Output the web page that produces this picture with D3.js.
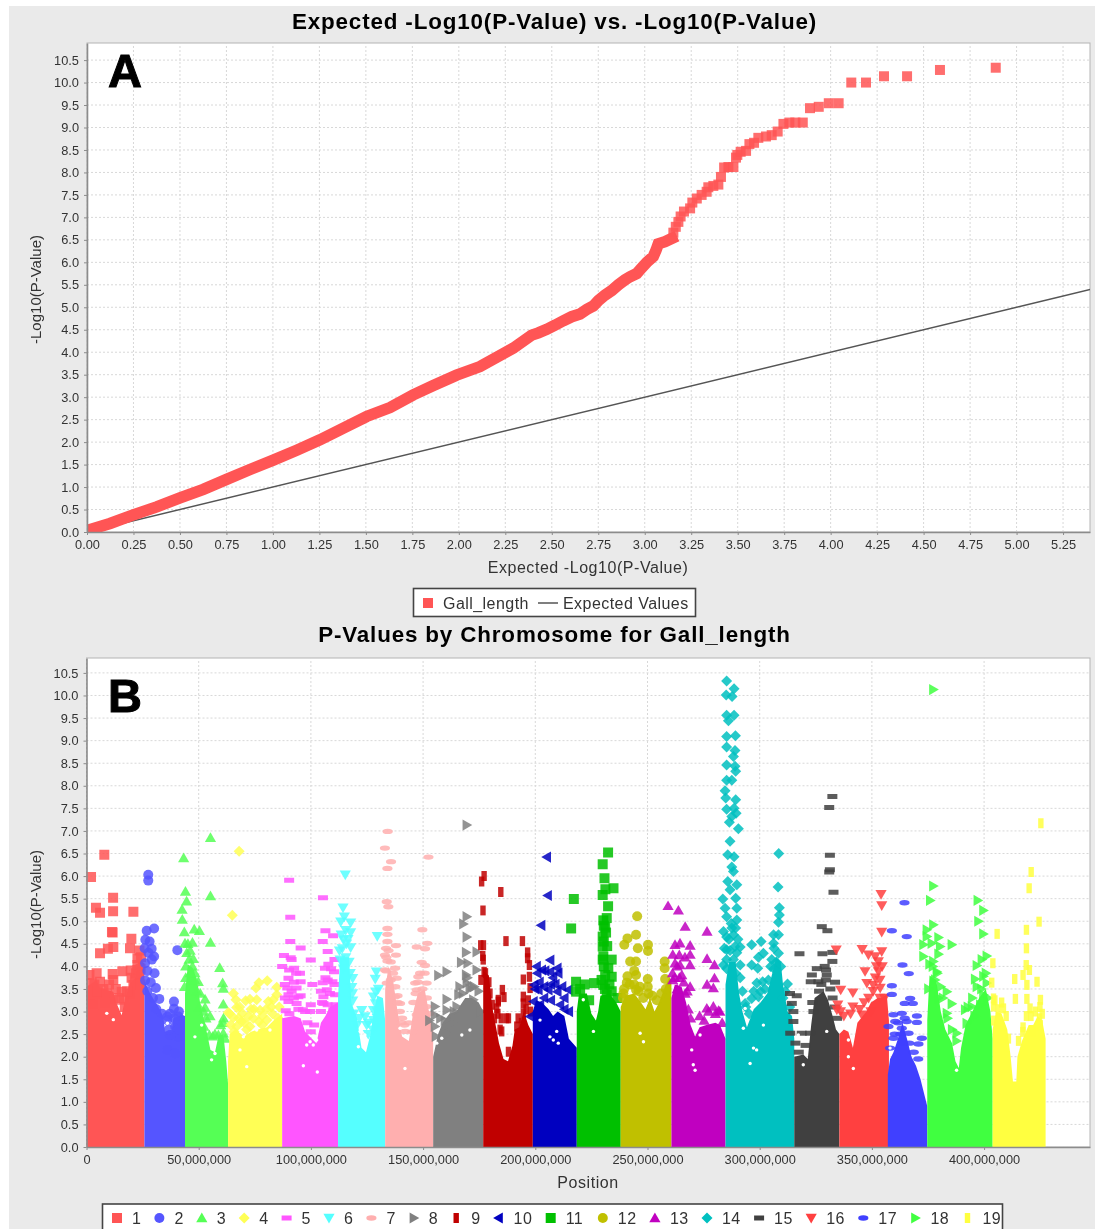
<!DOCTYPE html>
<html>
<head>
<meta charset="utf-8">
<script src="https://d3js.org/d3.v7.min.js"></script>
<style>
html, body { margin: 0; padding: 0; background: #fff; }
svg { display: block; }
text { font-family: "Liberation Sans", Arial, sans-serif; fill: #333; }
.soft { filter: blur(0.45px); }
</style>
</head>
<body>
<svg width="1095" height="1229"></svg>
<script>
// ---- panel A data
var xTicksA = [0,0.25,0.5,0.75,1,1.25,1.5,1.75,2,2.25,2.5,2.75,3,3.25,3.5,3.75,4,4.25,4.5,4.75,5,5.25];
var yTicks = [0,0.5,1,1.5,2,2.5,3,3.5,4,4.5,5,5.5,6,6.5,7,7.5,8,8.5,9,9.5,10,10.5];
var expectedLine = [[0,0],[5.4,5.4]];
// the low end of the QQ curve is so dense the squares merge into a band
var qqBand = [[0.007,0.04],[0.124,0.19],[0.249,0.38],[0.375,0.56],[0.5,0.76],[0.626,0.95],[0.751,1.17],[0.877,1.39],[1.002,1.6],[1.128,1.82],[1.253,2.05],[1.379,2.31],[1.504,2.57],[1.63,2.77],[1.755,3.05],[1.863,3.26],[1.988,3.49],[2.114,3.68],[2.204,3.89],[2.293,4.09],[2.392,4.38],[2.428,4.43],[2.473,4.51],[2.517,4.6],[2.562,4.7],[2.607,4.79],[2.652,4.85],[2.688,4.95],[2.724,5.03],[2.751,5.15],[2.786,5.27],[2.822,5.37],[2.858,5.5],[2.894,5.61],[2.921,5.68],[2.957,5.75],[2.984,5.88],[3.011,6],[3.046,6.13],[3.061,6.27],[3.073,6.41],[3.109,6.46],[3.145,6.53]];
var qqPoints = [[3.154,6.66],[3.167,6.79],[3.181,6.9],[3.193,7.02],[3.211,7.13],[3.244,7.2],[3.256,7.33],[3.28,7.42],[3.306,7.5],[3.333,7.57],[3.342,7.67],[3.369,7.7],[3.396,7.73],[3.41,7.9],[3.427,8.11],[3.45,8.12],[3.477,8.12],[3.491,8.33],[3.498,8.39],[3.516,8.46],[3.545,8.48],[3.563,8.63],[3.588,8.66],[3.611,8.77],[3.652,8.8],[3.683,8.83],[3.715,8.91],[3.746,9.08],[3.778,9.11],[3.81,9.11],[3.85,9.11],[3.889,9.43],[3.936,9.46],[3.99,9.54],[4.043,9.54],[4.111,10],[4.19,10],[4.287,10.14],[4.411,10.14],[4.588,10.28],[4.888,10.33]];

// ---- panel B data: separate points [Mb, -log10 p] per chromosome
var chr1Pts = [[7.9,6.47],[2,5.98],[11.8,5.52],[4.2,5.3],[6,5.19],[11.8,5.22],[20.8,5.21],[11.3,4.76],[11.6,4.75],[19.9,4.61],[9.5,4.39],[11.9,4.43],[19.3,4.4],[6,4.29],[22.6,4.18],[22.6,4.03],[22.6,3.92],[19.6,3.91],[15.9,3.89],[11.6,3.83],[4.5,3.85],[1.3,3.81],[21.5,3.7],[11.9,3.7],[6,3.66],[15.6,3.44],[20.8,3.59],[2.3,3.63],[5.3,3.4],[11.9,3.26],[19.3,3.4],[16.3,3.26],[1.5,3.35],[3.5,3.6],[5,3.45],[7.5,3.5],[9,3.4],[10,3.6],[13,3.5],[14.5,3.3],[18,3.45],[20,3.75],[22,3.85],[24,3.95],[24.2,4.2],[24,3.6],[23.5,4.35],[17,3.1],[3,3.15],[8,3.2]];
var chr2Pts = [[27.4,6.03],[27.4,5.9],[30,4.84],[26.7,4.79],[26.1,4.59],[25.8,4.4],[28.9,4.39],[40.3,4.36],[30,4.22],[26,4.07],[30.2,3.85],[26,3.69],[30.8,3.52],[32.3,3.28],[38.8,3.22],[38.8,3.06],[35.9,2.89],[40.8,2.89],[39.3,2.67],[35.9,2.81],[37,2.48],[40.8,2.44],[35.9,2.15],[39.3,2.07],[37.3,2.48],[27,3.9],[27.5,4.3],[28,4.55],[29,4.15],[28.5,3.65],[27,3.45],[29.5,3.3],[31,3.05],[33.5,2.95],[37,2.95],[39,2.85],[41,3],[42,2.7],[36.5,2.6],[41,2.6]];
var chr3Pts = [[55,6.85],[43.1,6.4],[43.9,5.66],[44.4,5.44],[55,5.56],[42.4,5.26],[42.5,5.04],[43.4,4.76],[47.8,4.82],[50.1,4.79],[55,4.53],[43.7,4.51],[47,4.53],[47.4,4.17],[59.1,3.97],[48.1,3.85],[60.4,3.63],[60.7,3.51],[49.6,3.66],[52.6,3.27],[60.7,3.16],[52.6,3.09],[54.8,2.9],[52.1,2.67],[60.7,2.75],[54.5,2.48],[60.7,2.52],[58.5,2.48],[45,4.5],[44.5,4.3],[46,4.35],[45.5,4.15],[44,4],[47,4],[48,3.7],[49,3.45],[50.5,3.4],[44,3.75],[43.5,3.55],[46,3.85],[52,3],[50,3.1],[53,2.85],[57,2.5],[59.5,2.7],[60.8,2.85],[61.5,2.4],[56,2.45]];
var chr4Pts = [[67.7,6.55],[64.7,5.13],[80.2,3.68],[76.5,3.64],[75.2,3.52],[84.4,3.54],[65.2,3.4],[84.4,3.37],[66.3,3.26],[70.6,3.24],[72.5,3.27],[75.5,3.26],[80.7,3.22],[82.9,3.26],[66.6,3.09],[74.3,3.05],[77,3.03],[79.7,3.05],[62.9,2.98],[69.1,2.96],[71.8,2.89],[65.2,2.87],[68.8,2.78],[76.5,2.78],[80,2.81],[72.5,2.67],[66.6,2.67],[64,2.7],[67.5,2.85],[70,2.75],[74,2.85],[78,2.9],[82.5,2.95],[85.5,3.1],[63.5,2.95],[73,3.05],[68,3.1],[85,2.85],[82,3.1],[78,2.7],[71,2.6],[65.5,2.55]];
var chr5Pts = [[89.9,5.91],[104.9,5.52],[90.4,5.09],[90.4,4.55],[104.8,4.55],[95,4.41],[106,4.79],[109.4,4.68],[87.6,4.24],[90.6,4.19],[107,4.33],[99.5,4.14],[86.8,4],[107.3,4.05],[89.9,3.92],[92.1,3.96],[105.8,3.96],[94.7,3.85],[109.8,3.88],[89.6,3.74],[95,3.66],[100.2,3.6],[104.8,3.64],[109.1,3.66],[89.1,3.52],[93.2,3.52],[106.6,3.48],[89.6,3.37],[94,3.33],[110.3,3.37],[105.1,3.33],[89.6,3.22],[93.2,3.18],[99.5,3.15],[105.1,3.18],[88.4,3.02],[96,3.04],[99.2,3],[109.5,3.04],[88,3.3],[91,3.45],[92,3.65],[88,3.6],[93,3.85],[91,4.15],[95,3.35],[92,3.3],[90,2.95],[94,3.05],[97,3],[104,3],[107,3.15],[108,3.4],[110,3.6],[106,3.75],[108.5,3.95],[110,4.15],[104,3.45],[107,3.7],[104.5,3.2],[110.5,3.15],[98,2.75],[101,2.7],[99.5,2.55]];
var chr6Pts = [[114.8,6.03],[113.8,5.3],[114.4,5.1],[117.2,4.97],[112.8,4.99],[117.2,4.75],[129,4.67],[114,4.59],[115.4,4.5],[117.2,4.42],[112.2,4.35],[128.6,3.88],[128.1,3.72],[118.1,3.74],[117.7,3.54],[118.1,3.24],[128.3,3.44],[127.3,3.33],[128.2,3.18],[122.1,3.03],[127.3,3.03],[123.6,2.89],[127.3,2.81],[124.3,2.7],[128.7,2.67],[113,4.7],[115,4.8],[113.5,4.4],[116,4.6],[112.5,4.15],[115,4.2],[116.5,4.1],[114,3.95],[117,3.85],[118,3.4],[118.5,2.95],[121,2.85],[120,2.7],[125,2.75],[129,3],[129.5,3.5],[127,2.6],[129,2.85],[125,2.5]];
var chr7Pts = [[133.6,6.99],[132.4,6.62],[135.1,6.32],[133.5,6.17],[151.7,6.42],[133.2,5.43],[133.9,5.32],[133.5,4.84],[133.5,4.71],[149,4.81],[133.5,4.55],[137.3,4.46],[151.2,4.51],[146.5,4.43],[150.2,4.39],[132.9,4.4],[132.4,4.25],[137.3,4.25],[133.5,4.12],[148.7,4.09],[150.2,4.02],[136.9,3.96],[132.4,3.92],[137.6,3.74],[147.2,3.77],[145.8,3.63],[150.9,3.63],[133.2,3.63],[146.5,3.48],[136.9,3.33],[148.7,3.26],[139.1,3.18],[150.9,3.11],[139.8,2.75],[141.3,2.56],[146.5,2.93],[134,4.35],[135,4.1],[133,4.2],[136,3.85],[135,3.7],[137,3.55],[133,3.9],[138,3.35],[139,3],[140,2.85],[138,3.2],[141,2.7],[147,3.65],[149,3.5],[146,3.4],[151,3.3],[148,3.85],[145,3.2],[150,3.85],[152,2.95],[143,2.75],[144.5,2.55]];
var chr8Pts = [[168.7,7.13],[168.7,5.1],[167.2,4.94],[168.7,4.65],[168.4,4.31],[173.1,4.32],[166.2,4.09],[169.1,4.07],[173.1,3.92],[156.1,3.8],[159.8,3.88],[168.4,3.81],[168.7,3.63],[170.9,3.55],[165,3.37],[159.8,3.27],[154.6,3.11],[159.8,3.03],[154.6,2.92],[152.1,2.8],[154.6,2.67],[164.2,3.11],[171.6,3.26],[157,2.85],[155,2.45],[163,3],[165.5,3.55],[167,3.4],[169,3.75],[172,3.55],[174,3.45],[170,3.5],[162,2.75],[160,2.5],[159,2.8],[175,3]];
var chr9Pts = [[176.4,6],[175.3,5.88],[183.8,5.65],[175.9,5.24],[174.9,4.47],[176.1,4.47],[175.8,4.23],[186.1,4.56],[193.4,4.56],[195.7,4.31],[195.7,4.18],[196.5,4.03],[196.5,3.77],[193.8,3.71],[176.4,3.88],[196.8,3.52],[184.5,3.48],[185.2,3.32],[182.7,3.26],[193.8,3.33],[193.8,3.18],[182,3.07],[186.4,2.85],[190.9,2.67],[193.8,2.96],[183.5,2.6],[180.5,2.52],[190.9,2.26],[187.2,2.85],[187.2,2.11],[184.2,2.56],[182.7,3.22],[176,4.15],[177,3.85],[178.5,3.65],[175,3.7],[179,3.4],[180,3.15],[181,2.85],[182.5,2.95],[184,2.85],[195,3.05],[191.5,2.85],[193,2.75],[196,3.25],[197,3]];
var chr10Pts = [[204.2,6.42],[204.6,5.57],[201.7,4.91],[205.7,4.14],[199.7,4],[202,3.92],[205.7,3.88],[208.9,3.96],[209.3,3.85],[198.6,3.59],[200.5,3.48],[204.9,3.48],[208.9,3.44],[213.8,3.48],[198.3,3.22],[201.2,3.15],[210.1,3.15],[196.8,2.89],[207.9,2.85],[199,3.5],[201,3.65],[203,3.55],[206,3.6],[208,3.6],[211,3.55],[200,3.85],[203.5,3.9],[207,3.75],[212,3.3],[214,3],[206,3.25],[203,3.3],[212,3.05]];
var chr11Pts = [[231.4,6.52],[229,6.26],[229.8,5.95],[230.2,5.71],[233.8,5.73],[229,5.58],[216.2,5.49],[231.4,5.33],[215,4.84],[229.3,5.02],[230.8,5.07],[230.1,4.86],[229,4.66],[229,4.44],[229.3,4.22],[233,4.15],[231.5,3.96],[230.1,3.81],[233,3.77],[217.2,3.66],[225.2,3.63],[229.3,3.59],[217.2,3.44],[230.8,3.37],[219,3.5],[221,3.6],[223,3.25],[228.5,3.7],[230,3.5],[232,3.6],[233,3.45],[235.5,3.3],[229.5,4],[229,4.15],[231,4.45],[229.5,4.55],[229.5,4.9],[230.5,4.75]];
var chr12Pts = [[244.3,5.11],[240,4.62],[243.8,4.7],[238.6,4.48],[244.6,4.4],[249.1,4.48],[249.1,4.34],[241.2,4.11],[243.8,4.11],[256.5,4.11],[256.5,3.96],[243.8,3.81],[240,3.78],[239.7,3.64],[249,3.72],[256.7,3.72],[243.8,3.48],[249.3,3.4],[238.2,3.4],[241,3.6],[243,3.6],[245,3.45],[238,3.3],[247,3.3],[251,3.35],[253,3.25],[255,3.4],[257,3.5],[245.5,3.55],[238.5,3.5],[249,3.55],[243,3.9]];
var chr13Pts = [[258,5.34],[262.6,5.24],[265.6,4.88],[275.3,4.77],[261.1,4.48],[263.3,4.51],[267.8,4.46],[260.1,4.26],[267.8,4.26],[275.3,4.17],[278.6,4.03],[261.1,4.07],[263.3,4.03],[267.8,4.03],[264.1,3.81],[260.1,3.7],[278.6,3.74],[275.3,3.6],[278.1,3.52],[267.8,3.55],[275.2,3.07],[278.1,3.11],[280.4,3.02],[265.6,3.4],[260,3.85],[262,4],[261,3.75],[263,3.75],[265,3.65],[266.5,3.45],[262,3.5],[267,3.05],[268,2.85],[272,2.9],[276,3],[279,2.95],[281,3],[274,2.8],[282,2.75],[263,4.25],[265.5,4.2]];
var chr14Pts = [[284,10.32],[287.3,10.15],[283.8,10.01],[286.4,9.98],[284,9.56],[287.3,9.56],[284.8,9.44],[284,9.09],[287.9,9.11],[284,8.86],[287.7,8.78],[287,8.65],[284,8.46],[287.7,8.43],[288,8.32],[284,8.12],[286.3,8.12],[283.3,7.89],[283.6,7.73],[288,7.69],[284,7.48],[287.3,7.5],[288.2,7.39],[286.3,7.32],[285.2,7.19],[289.2,7.05],[285.5,6.77],[284.5,6.47],[287.3,6.43],[307.1,6.5],[286.3,6.2],[287,6.1],[284.5,5.88],[288.5,5.81],[285.5,5.7],[306.8,5.76],[282.3,5.49],[288,5.51],[288.5,5.29],[283.3,5.29],[307.4,5.3],[307.4,5.14],[307,4.98],[284,5.1],[288.5,5.03],[286.3,4.85],[282.6,4.77],[295.1,4.48],[299.3,4.55],[304.8,4.7],[307,4.7],[304.8,4.51],[290,4.43],[300.3,4.29],[298.1,4.2],[307,4.29],[304,4.15],[284,4.37],[287.7,4.44],[282.6,4.03],[290,4.03],[295.1,4.03],[297.8,3.96],[297.4,3.63],[300,3.66],[311,3.61],[295.1,3.29],[298.1,3.33],[292.2,3.18],[284,4.15],[285,4.6],[287,4.7],[284,4.65],[288.5,4.3],[285.5,4.35],[287,4.15],[289,4.6],[283,4.4],[286,4.95],[288,4.85],[290,3.75],[284,3.95],[288,3.85],[291,3.45],[292.5,3.1],[305,4.4],[306,4.1],[308,4],[305,3.95],[303.5,4],[302.5,3.7],[301,3.5],[299,3.45],[296,3.45],[310,3.45],[312,3.1],[309,3.3],[294,2.95]];
var chr15Pts = [[330.9,7.76],[329.5,7.52],[329.8,6.46],[329.8,6.14],[329.5,6.09],[331.4,5.64],[326.2,4.88],[328.7,4.79],[316.3,4.28],[326.5,4.28],[330.9,4.31],[330.9,4.11],[324,3.95],[328.1,3.92],[321.8,3.81],[328.4,3.81],[321.3,3.66],[324.7,3.66],[332.1,3.65],[312.1,3.4],[315.1,3.35],[312.9,3.18],[313.6,3],[313.6,2.78],[312.2,2.52],[317.3,2.52],[322.5,3],[321,2.52],[326,3.6],[328,3.7],[325,3.45],[330,3.5],[331,3.3],[322,3.2],[327.5,4],[332,3.1],[333,2.85],[314.5,2.3],[319,2.25],[316,2.1]];
var chr16Pts = [[352.5,5.6],[352.8,5.35],[352.8,4.76],[332.6,4.37],[344.1,4.38],[352.8,4.33],[349.9,4.22],[345.4,3.89],[351.3,4.11],[346.9,4.26],[349.1,3.59],[334.6,3.48],[340,3.42],[333.3,3.15],[340,3.11],[351.3,3.89],[346.2,3.63],[352.1,3.52],[332.9,3.04],[344,2.93],[350,3.75],[352,3.7],[349,3.45],[353,4],[354,3.3],[347,3.3],[350.5,4],[336,2.9],[339,2.95],[343,3.05],[348,3],[334.5,3],[345,3.2],[352,3.3]];
var chr17Pts = [[362.9,5.41],[357.3,4.79],[363.9,4.66],[362,4.03],[364.8,3.84],[357.3,3.57],[357.3,3.38],[365.4,3.29],[363,3.18],[366.6,3.18],[358,2.93],[361.7,2.96],[368.4,2.9],[358.8,2.78],[363.9,2.78],[368.4,2.76],[355.8,2.67],[361.7,2.63],[364.7,2.52],[370.6,2.41],[358,2.41],[369.1,2.28],[356.5,2.19],[360,2.75],[363,2.85],[361,2.5],[365,2.3],[367,2.1],[358.5,2.5],[369,1.95],[362,2.3]];
var chr18Pts = [[375.7,10.13],[375.7,5.78],[374.3,5.46],[395.4,5.46],[397.9,5.24],[395.7,5],[397.9,4.72],[375.7,4.92],[372.8,4.81],[378,4.64],[372.8,4.66],[371.3,4.48],[375,4.51],[378.7,4.44],[383.9,4.48],[378,4.27],[371.3,4.22],[399.4,4.23],[397.2,4.15],[375.7,4.11],[395,4.02],[377.2,3.88],[394.2,3.72],[397.9,3.78],[376.5,3.7],[399.4,3.63],[381.7,3.44],[397.9,3.37],[383.9,3.17],[389.8,3.04],[392.8,3.11],[381.7,2.96],[390.5,2.74],[386.1,2.52],[374,4.05],[375.5,4],[377.5,3.85],[379,3.55],[380,3.3],[378,3.3],[382,2.85],[384,2.6],[386,2.35],[373.5,3.5],[391,3.1],[393,3.3],[395,3.55],[397,3.5],[399,3.85],[400,3.3],[394,2.9],[396.5,3.15]];
var chr19Pts = [[423.4,7.17],[419.1,6.09],[418.2,5.73],[422.6,4.99],[404,4.72],[417,4.81],[417,4.4],[402.1,4.07],[416.9,4.03],[418.3,3.92],[415.5,3.81],[411.8,3.72],[401.6,3.64],[417.2,3.59],[421.7,3.66],[412.1,3.28],[417.2,3.28],[423.2,3.26],[406.8,3.07],[418.6,3.07],[402.4,3.29],[402.4,3.11],[422.8,2.85],[415.4,2.55],[423.1,2.7],[403,3.25],[406,3.2],[408,2.9],[409,2.4],[404.5,3.05],[415.5,2.65],[417,2.9],[419,2.9],[421,3],[423,3.1],[424,2.95],[420,2.55],[413.5,2.35],[402.5,2.8]];

// upper edge of the solid mass of overlapping markers, per chromosome
var chr1Mass = [[0,3.55],[4.5,3.7],[6,3.52],[11.9,3.44],[13.4,3.18],[15.6,2.92],[17.1,3.29],[19.3,3.63],[21.5,3.74],[23,4.14],[25.7,4.07]];
var chr2Mass = [[25.7,3.69],[28.2,3.4],[31.1,3.18],[34.1,2.89],[34.8,2.56],[37.8,2.56],[38.5,2.85],[42.2,2.93],[43.7,2.9]];
var chr3Mass = [[43.7,3.4],[45,4.05],[47.5,3.95],[49.5,3.55],[50.5,3.15],[52.5,2.75],[55,2.15],[57,2.1],[58.5,2.45],[60.7,2.5],[62,1.9],[62.8,1.4]];
var chr4Mass = [[62.8,1.9],[63.5,2.5],[66,2.6],[70,2.45],[73,2.55],[76,2.6],[80,2.65],[83,2.8],[86.8,2.95]];
var chr5Mass = [[86.8,2.85],[92,2.9],[95,2.85],[97,2.55],[99,2.45],[102,2.3],[104,2.75],[106,2.9],[108,3.1],[111.6,3.2]];
var chr6Mass = [[111.6,3.3],[112.5,4.2],[116.5,4.2],[117.5,3.2],[120,2.85],[122,2.2],[124,2.1],[126,2.5],[127.5,3],[129,3.35],[131.5,3.3],[132.5,2.8]];
var chr7Mass = [[132.5,3.5],[134,4],[136,3.7],[138,3],[140,2.45],[143,2.35],[145,3],[147,3.4],[150,3.5],[151.5,3.1],[153.8,2.6]];
var chr8Mass = [[153.8,2],[156,2.5],[158,2.75],[161,2.95],[164,3],[168,3.3],[171,3.3],[174,3.2],[176,3]];
var chr9Mass = [[176,3.9],[178.5,3.8],[180,3.1],[181.5,2.7],[183,2.3],[185,1.95],[187,1.9],[189,2.25],[190,2.6],[192,2.65],[194,3],[196,2.7],[198,2.5]];
var chr10Mass = [[198,3],[199.5,3.25],[202,3.2],[205,3.05],[207,2.9],[209,3],[212,2.9],[214,2.4],[217.5,2.2]];
var chr11Mass = [[217.5,3],[218.5,3.4],[222,3.4],[224,2.95],[226,2.8],[227,3],[228,3.35],[232,3.4],[235,3.2],[237,3]];
var chr12Mass = [[237,3.1],[239,3.35],[243,3.4],[246,3.2],[248,3.05],[250,3.3],[252,3],[254,3.2],[257,3.6],[258.5,3.75],[259.5,3.7]];
var chr13Mass = [[259.5,3.3],[261,3.6],[264,3.55],[266,3.2],[268,2.7],[270,2.45],[272,2.65],[275,2.7],[279,2.75],[281,2.7],[283.5,2.4]];
var chr14Mass = [[283.5,3.6],[285,4.1],[288,4.1],[289.5,3.4],[291,3],[293,2.65],[296,3.05],[299,3.2],[302,3.4],[304,3.8],[306,4.2],[308,4.1],[309,3.6],[311,3],[313,2.9],[314,2.4]];
var chr15Mass = [[314,2],[318,2.05],[320,1.95],[321.5,2.7],[323,3.3],[327,3.45],[329,3.25],[331,2.9],[332.5,2.6],[334,2.5]];
var chr16Mass = [[334,2.5],[336,2.6],[338,2.55],[340,2.2],[342,2.75],[346,3],[348,3.2],[351,3.3],[353,3.3],[355,3.4],[356,2.8]];
var chr17Mass = [[355.5,1.6],[356.5,1.95],[358,2.1],[360,2.4],[362,2.75],[364,2.4],[366,2],[368,1.8],[370,1.5],[372,1.1],[373,0.9]];
var chr18Mass = [[373,2.8],[374,3.8],[377,3.7],[379,3],[381,2.6],[384,2.3],[385.5,1.9],[387,1.75],[388,2.2],[390,2.7],[393,3],[396,3.3],[399,3.5],[401,3],[402,2.4]];
var chr19Mass = [[402,2.6],[403.5,3],[406,2.95],[408.5,2.6],[410,2],[411,1.45],[412.5,1.45],[413,2],[415,2.35],[418,2.7],[420,2.7],[422,2.9],[424,2.8],[425.5,2.4]];

// small white holes left inside the mass
var massGaps = [[11.9,2.82],[9,2.96],[35.9,2.74],[56.3,2.26],[57,2.07],[55.5,1.93],[51.1,2.7],[48.1,2.44],[69.6,2.44],[71.1,1.78],[68.1,2.15],[81.4,2.59],[75.5,2.59],[99.2,2.33],[100.6,2.26],[97.7,2.26],[102.1,2.37],[96.2,1.8],[102.4,1.66],[121.4,2.56],[120.6,2.22],[123.5,2.48],[141.3,1.74],[139.1,2.63],[157.6,2.41],[155.4,2.3],[170.1,2.59],[166.5,2.48],[208.6,2.56],[207.1,2.37],[209.3,2.3],[201.2,2.81],[205.6,2.44],[224.9,2.56],[220.4,3.26],[245.6,2.52],[247.1,2.33],[269.2,1.82],[270,1.7],[268.5,2.15],[272.2,2.48],[294.4,1.85],[295.9,2.19],[297.3,2.15],[300.3,2.7],[291.4,2.63],[292.2,3.07],[318,1.82],[328.4,2.56],[315.8,2.48],[338,2.37],[340.2,1.74],[338,2],[356.5,2.19],[386,1.7]];

var chromosomes = ["1","2","3","4","5","6","7","8","9","10","11","12","13","14","15","16","17","18","19"];
var chromColors = ["#FF5555","#5555FF","#55FF55","#FFFF55","#FF55FF","#55FFFF","#FFAFAF","#808080","#C00000","#0000C0","#00C000","#C0C000","#C000C0","#00C0C0","#404040","#FF4040","#4040FF","#40FF40","#FFFF40"];
var chromPts = [chr1Pts,chr2Pts,chr3Pts,chr4Pts,chr5Pts,chr6Pts,chr7Pts,chr8Pts,chr9Pts,chr10Pts,chr11Pts,chr12Pts,chr13Pts,chr14Pts,chr15Pts,chr16Pts,chr17Pts,chr18Pts,chr19Pts];
var chromMass = [chr1Mass,chr2Mass,chr3Mass,chr4Mass,chr5Mass,chr6Mass,chr7Mass,chr8Mass,chr9Mass,chr10Mass,chr11Mass,chr12Mass,chr13Mass,chr14Mass,chr15Mass,chr16Mass,chr17Mass,chr18Mass,chr19Mass];
var xTicksB = [0,50,100,150,200,250,300,350,400];
// positions above were read against a slightly wider tick spacing
var mbCalib = 1.0045;

var svg = d3.select("svg");

// the ten marker shapes, repeated for chromosomes 11 to 19
function poly(pts) {
    return "M" + pts.join("L") + "Z";
}
function ellipse(rx, ry) {
    return "M" + (-rx) + ",0A" + rx + "," + ry + " 0 1,0 " + rx + ",0A" + rx + "," + ry + " 0 1,0 " + (-rx) + ",0Z";
}
var shapes = [
    poly([[-5,-5],[5,-5],[5,5],[-5,5]]),
    ellipse(5, 5),
    poly([[0,-5.5],[5.6,4.2],[-5.6,4.2]]),
    poly([[0,-5.5],[5.5,0],[0,5.5],[-5.5,0]]),
    poly([[-5,-2.5],[5,-2.5],[5,2.5],[-5,2.5]]),
    poly([[0,5.5],[5.6,-4.2],[-5.6,-4.2]]),
    ellipse(5.1, 2.7),
    poly([[-4.2,-5.6],[5.5,0],[-4.2,5.6]]),
    poly([[-2.7,-5],[2.7,-5],[2.7,5],[-2.7,5]]),
    poly([[4.2,-5.6],[-5.5,0],[4.2,5.6]])
];

// panel backdrop
svg.append("rect").attr("x", 9).attr("y", 6).attr("width", 1086).attr("height", 1223).attr("fill", "#EAEAEA");

var root = svg.append("g").attr("class", "soft");

function plotFrame(name, x, y, xTicks, xFmt, xTitle, titleY, titleText) {
    var x0 = x.range()[0], x1 = x.range()[1], y0 = y.range()[0], y1 = y.range()[1];
    var g = root.append("g");

    g.append("rect").attr("x", x0).attr("y", y1).attr("width", x1 - x0).attr("height", y0 - y1)
        .attr("fill", "#fff").attr("stroke", "#b4b4b4");

    // dashed grid
    g.append("g").selectAll("line").data(xTicks).enter().append("line")
        .attr("x1", function(d) { return x(d); }).attr("x2", function(d) { return x(d); })
        .attr("y1", y0).attr("y2", y1)
        .attr("stroke", "#d8d8d8").attr("stroke-dasharray", "2,2");
    g.append("g").selectAll("line").data(yTicks).enter().append("line")
        .attr("y1", function(d) { return y(d); }).attr("y2", function(d) { return y(d); })
        .attr("x1", x0).attr("x2", x1)
        .attr("stroke", "#d8d8d8").attr("stroke-dasharray", "2,2");

    svg.append("clipPath").attr("id", "clip" + name).append("rect")
        .attr("x", x0).attr("y", y1).attr("width", x1 - x0).attr("height", y0 - y1);

    var marks = root.append("g").attr("clip-path", "url(#clip" + name + ")");

    // axes go on top of the marks
    var axes = root.append("g");
    var xAxis = axes.append("g").attr("transform", "translate(0," + y0 + ")")
        .call(d3.axisBottom(x).tickValues(xTicks).tickFormat(xFmt).tickSizeInner(3).tickSizeOuter(0).tickPadding(5));
    var yAxis = axes.append("g").attr("transform", "translate(" + x0 + ",0)")
        .call(d3.axisLeft(y).tickValues(yTicks).tickFormat(d3.format(".1f")).tickSizeInner(3).tickSizeOuter(0).tickPadding(5));
    [xAxis, yAxis].forEach(function(a) {
        a.selectAll(".domain").attr("stroke", "#8c8c8c").attr("stroke-width", 1.6);
        a.selectAll(".tick line").attr("stroke", "#8c8c8c");
        a.selectAll("text").attr("font-size", 12.8).style("font-family", '"Liberation Sans", Arial, sans-serif').attr("fill", "#333");
    });

    axes.append("text").attr("x", 554.5).attr("y", titleY).attr("text-anchor", "middle")
        .attr("font-size", 22.4).attr("font-weight", "bold").attr("letter-spacing", 0.85).style("fill", "#000").text(titleText);
    axes.append("text").attr("x", 588).attr("y", y0 + 40.5).attr("text-anchor", "middle")
        .attr("font-size", 16).attr("letter-spacing", 0.55).text(xTitle);
    axes.append("text").attr("transform", "translate(41," + ((y0 + y1) / 2 + 2) + ") rotate(-90)")
        .attr("text-anchor", "middle").attr("font-size", 15).text("-Log10(P-Value)");
    return marks;
}

// ---- panel A
var xA = d3.scaleLinear().domain([0, 5.395]).range([87, 1090]);
var yA = d3.scaleLinear().domain([0, 10.88]).range([532, 43]);
var marksA = plotFrame("A", xA, yA, xTicksA, d3.format(".2f"), "Expected -Log10(P-Value)", 29, "Expected -Log10(P-Value) vs. -Log10(P-Value)");

var lineA = d3.line().x(function(d) { return xA(d[0]); }).y(function(d) { return yA(d[1]); });
marksA.append("path").attr("d", lineA(expectedLine)).attr("fill", "none").attr("stroke", "#555").attr("stroke-width", 1.5);
marksA.append("path").attr("d", lineA(qqBand)).attr("fill", "none").attr("stroke", chromColors[0]).attr("stroke-width", 11.5).attr("stroke-linecap", "square");
marksA.selectAll("path.qq").data(qqPoints).enter().append("path").attr("class", "qq")
    .attr("d", shapes[0])
    .attr("transform", function(d) { return "translate(" + xA(d[0]) + "," + yA(d[1]) + ")"; })
    .attr("fill", chromColors[0]).attr("fill-opacity", 0.85);

// ---- panel B
var xB = d3.scaleLinear().domain([0, 447.2]).range([86.5, 1090]);
var yB = d3.scaleLinear().domain([0, 10.83]).range([1147, 658]);
var commaMb = function(d) { return d3.format(",")(d * 1000000); };
var marksB = plotFrame("B", xB, yB, xTicksB, commaMb, "Position", 642, "P-Values by Chromosome for Gall_length");

var massArea = d3.area()
    .x(function(d) { return xB(d[0] * mbCalib); })
    .y0(yB(0))
    .y1(function(d) { return yB(d[1]); });

chromosomes.forEach(function(name, i) {
    var g = marksB.append("g").attr("class", "chr" + name);
    g.append("path").attr("d", massArea(chromMass[i])).attr("fill", chromColors[i]);
    g.selectAll("path.pt").data(chromPts[i]).enter().append("path").attr("class", "pt")
        .attr("d", shapes[i % 10])
        .attr("transform", function(d) { return "translate(" + xB(d[0] * mbCalib) + "," + yB(d[1]) + ")"; })
        .attr("fill", chromColors[i]).attr("fill-opacity", 0.85);
});

marksB.append("g").selectAll("circle").data(massGaps).enter().append("circle")
    .attr("cx", function(d) { return xB(d[0] * mbCalib); })
    .attr("cy", function(d) { return yB(d[1]); })
    .attr("r", 1.7).attr("fill", "#fff");

// panel letters
root.append("text").attr("x", 108).attr("y", 87).attr("font-size", 47).attr("font-weight", "bold")
    .style("fill", "#000").attr("stroke", "#000").attr("stroke-width", 1).text("A");
root.append("text").attr("x", 108).attr("y", 712).attr("font-size", 47).attr("font-weight", "bold")
    .style("fill", "#000").attr("stroke", "#000").attr("stroke-width", 1).text("B");

// ---- legends
var legA = root.append("g");
legA.append("rect").attr("x", 413.5).attr("y", 588.5).attr("width", 282).attr("height", 28)
    .attr("fill", "#fff").attr("stroke", "#444").attr("stroke-width", 1.6);
legA.append("path").attr("d", shapes[0]).attr("transform", "translate(428,603)").attr("fill", chromColors[0]);
legA.append("text").attr("x", 443).attr("y", 608.5).attr("font-size", 16).attr("letter-spacing", 0.45).text("Gall_length");
legA.append("line").attr("x1", 538).attr("x2", 558).attr("y1", 603).attr("y2", 603).attr("stroke", "#555").attr("stroke-width", 1.5);
legA.append("text").attr("x", 563).attr("y", 608.5).attr("font-size", 16).attr("letter-spacing", 0.45).text("Expected Values");

var legB = root.append("g");
legB.append("rect").attr("x", 102.5).attr("y", 1204).attr("width", 900).attr("height", 40)
    .attr("fill", "#fff").attr("stroke", "#444").attr("stroke-width", 1.6);
var legendX = 117;
chromosomes.forEach(function(name, i) {
    legB.append("path").attr("d", shapes[i % 10]).attr("transform", "translate(" + legendX + ",1218)").attr("fill", chromColors[i]);
    legB.append("text").attr("x", legendX + 15).attr("y", 1223.5).attr("font-size", 16).attr("letter-spacing", 0.45).text(name);
    legendX += name.length > 1 ? 52.1 : 42.4;
});
</script>
</body>
</html>
